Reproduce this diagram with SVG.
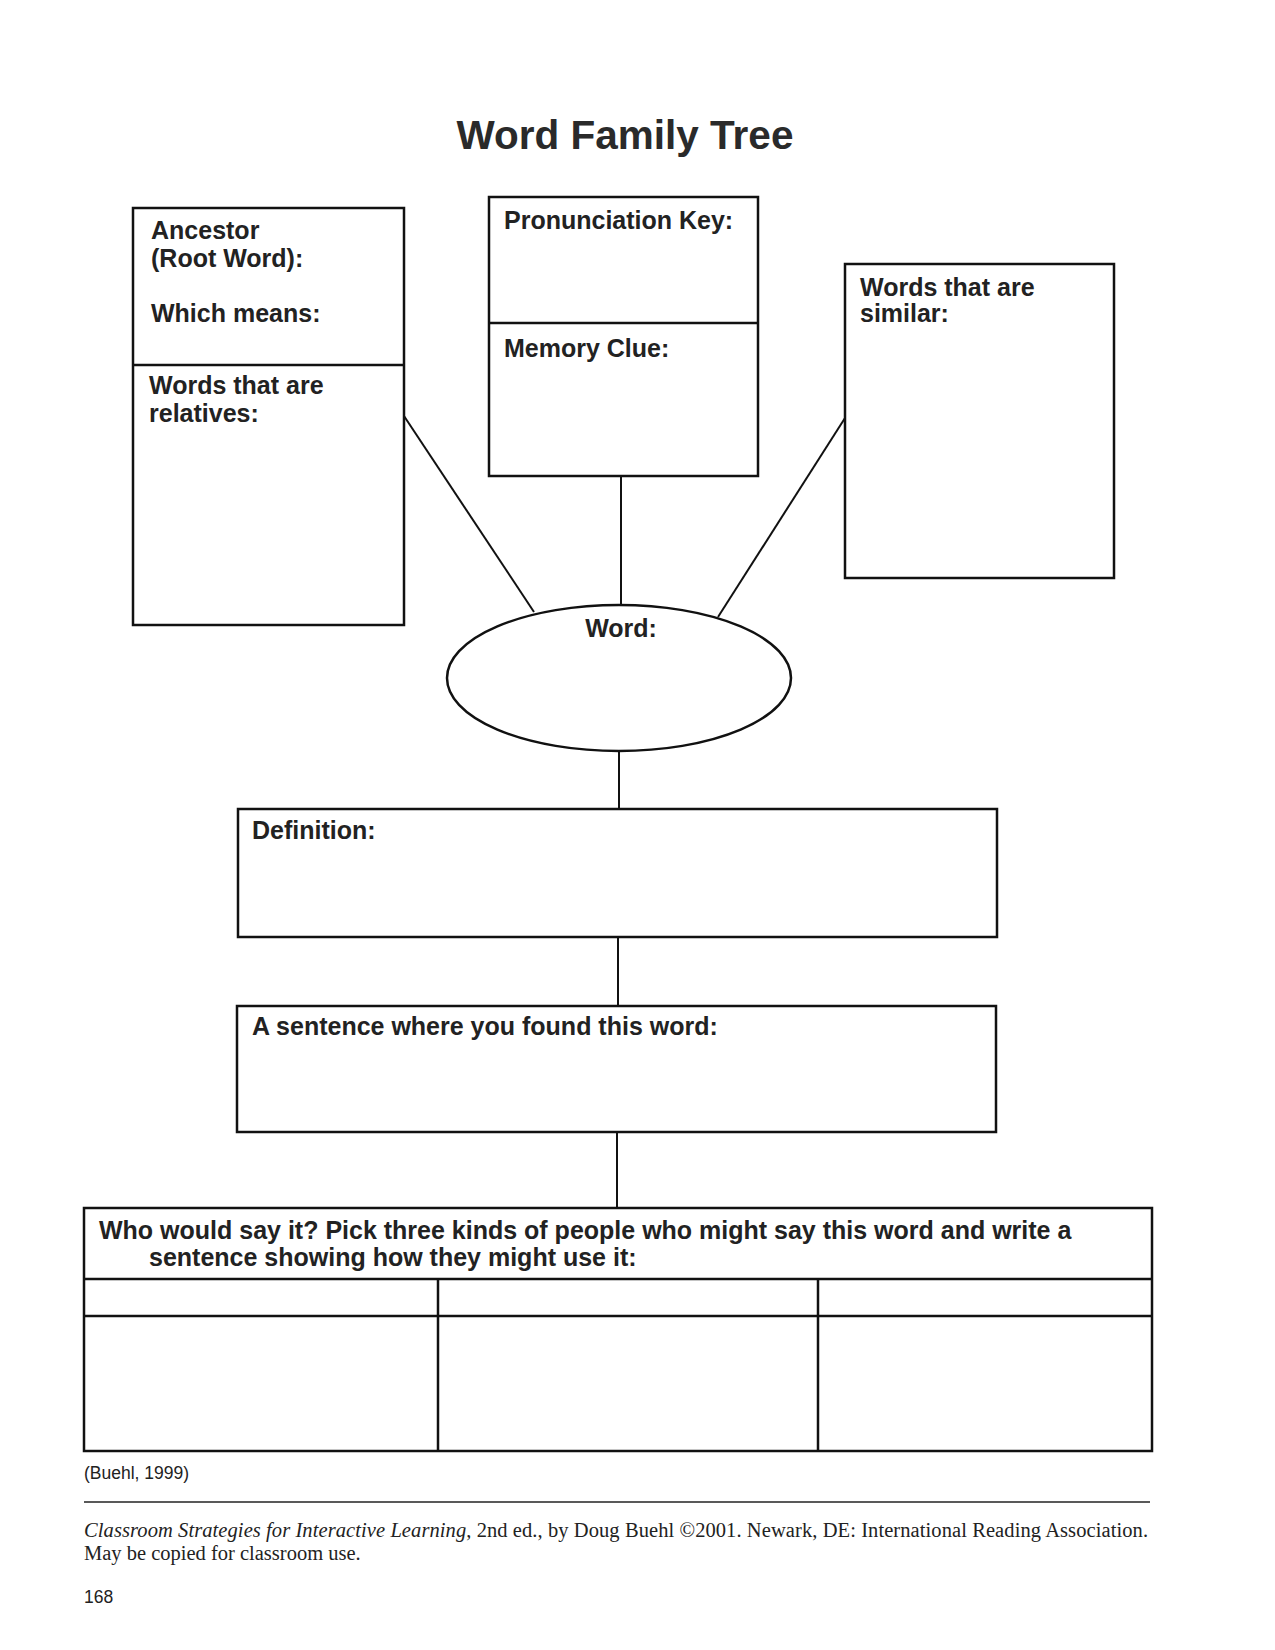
<svg xmlns="http://www.w3.org/2000/svg" width="1275" height="1650" viewBox="0 0 1275 1650">
<style>
.box{fill:none;stroke:#111;stroke-width:2.5}
.con{fill:none;stroke:#111;stroke-width:2}
.lbl{font-family:"Liberation Sans",Arial,sans-serif;font-weight:bold;font-size:25px;fill:#222}
.title{font-family:"Liberation Sans",Arial,sans-serif;font-weight:bold;font-size:40.5px;fill:#2a2a2a}
.small{font-family:"Liberation Sans",Arial,sans-serif;font-size:17.5px;fill:#222}
.foot{font-family:"Liberation Serif","Times New Roman",serif;font-size:20.5px;fill:#222}
</style>
<rect width="1275" height="1650" fill="#fff"/>
<text class="title" x="625" y="149" text-anchor="middle">Word Family Tree</text>

<g id="connectors">
<line class="con" x1="404" y1="416" x2="534" y2="612"/>
<line class="con" x1="621" y1="476" x2="621" y2="606"/>
<line class="con" x1="845" y1="418" x2="718" y2="617"/>
<line class="con" x1="619" y1="751" x2="619" y2="809"/>
<line class="con" x1="618" y1="937" x2="618" y2="1006"/>
<line class="con" x1="617" y1="1132" x2="617" y2="1208"/>
</g>

<g id="ancestor">
<rect class="box" x="133" y="208" width="271" height="417"/>
<line class="box" x1="133" y1="365" x2="404" y2="365"/>
<text class="lbl" x="151" y="239">Ancestor</text>
<text class="lbl" x="151" y="267">(Root Word):</text>
<text class="lbl" x="151" y="322">Which means:</text>
<text class="lbl" x="149" y="394">Words that are</text>
<text class="lbl" x="149" y="422">relatives:</text>
</g>

<g id="pronunciation">
<rect class="box" x="489" y="197" width="269" height="279"/>
<line class="box" x1="489" y1="323" x2="758" y2="323"/>
<text class="lbl" x="504" y="229">Pronunciation Key:</text>
<text class="lbl" x="504" y="357">Memory Clue:</text>
</g>

<g id="similar">
<rect class="box" x="845" y="264" width="269" height="314"/>
<text class="lbl" x="860" y="296">Words that are</text>
<text class="lbl" x="860" y="322">similar:</text>
</g>

<g id="word">
<ellipse class="box" cx="619" cy="678" rx="172" ry="73"/>
<text class="lbl" x="621" y="637" text-anchor="middle">Word:</text>
</g>

<g id="definition">
<rect class="box" x="238" y="809" width="759" height="128"/>
<text class="lbl" x="252" y="839">Definition:</text>
</g>

<g id="sentence">
<rect class="box" x="237" y="1006" width="759" height="126"/>
<text class="lbl" x="252" y="1035">A sentence where you found this word:</text>
</g>

<g id="who">
<rect class="box" x="84" y="1208" width="1068" height="243"/>
<line class="box" x1="84" y1="1279" x2="1152" y2="1279"/>
<line class="box" x1="84" y1="1316" x2="1152" y2="1316"/>
<line class="box" x1="438" y1="1279" x2="438" y2="1451"/>
<line class="box" x1="818" y1="1279" x2="818" y2="1451"/>
<text class="lbl" x="99" y="1239">Who would say it? Pick three kinds of people who might say this word and write a</text>
<text class="lbl" x="149" y="1266">sentence showing how they might use it:</text>
</g>

<text class="small" x="84" y="1479">(Buehl, 1999)</text>
<line x1="84" y1="1502" x2="1150" y2="1502" stroke="#222" stroke-width="1.5"/>
<text class="foot" x="84" y="1537" textLength="1064" lengthAdjust="spacing"><tspan font-style="italic">Classroom Strategies for Interactive Learning</tspan>, 2nd ed., by Doug Buehl ©2001. Newark, DE: International Reading Association.</text>
<text class="foot" x="84" y="1560" font-size="20">May be copied for classroom use.</text>
<text class="small" x="84" y="1603" font-size="20.5">168</text>
</svg>
